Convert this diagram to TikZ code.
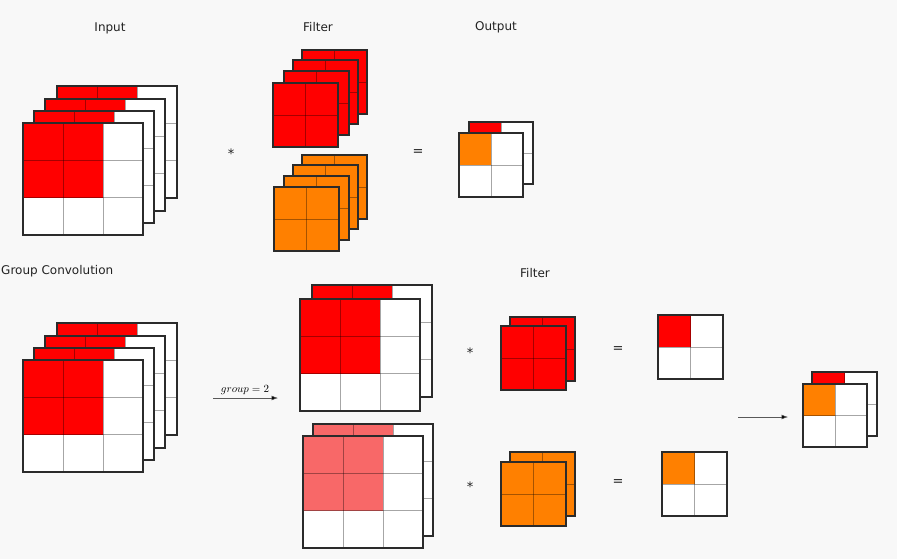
\documentclass[tikz,border=0pt]{standalone}
\usepackage{fontspec}
\setmainfont{DejaVu Sans}
\usetikzlibrary{arrows.meta}
\definecolor{bgc}{HTML}{F8F8F8}
\definecolor{cred}{HTML}{FF0000}
\definecolor{corange}{HTML}{FF8000}
\definecolor{clight}{HTML}{F86868}
\definecolor{cborder}{HTML}{2B2B2B}
\definecolor{ctext}{HTML}{222222}
\tikzset{
  innerline/.style={line width=0.6pt, black, opacity=0.35},
  outerline/.style={line width=1.5pt, cborder},
  title/.style={font=\fontsize{12}{14}\selectfont, text=ctext, inner sep=0pt},
  opsym/.style={font=\fontsize{13}{15}\selectfont, text=ctext, inner sep=0pt},
  flowarrow/.style={line width=0.6pt, draw=black!65, -{Latex[length=6.5pt,width=5pt,fill=black]}},
}
% x y cellw cellh cols rows color fillcols fillrows
\newcommand{\glayer}[9]{%
  \pgfmathsetmacro\gw{#5*#3}\pgfmathsetmacro\gh{#6*#4}%
  \pgfmathsetmacro\gfw{#8*#3}\pgfmathsetmacro\gfh{#9*#4}%
  \pgfmathtruncatemacro\gcm{#5-1}\pgfmathtruncatemacro\grm{#6-1}%
  \fill[white] (#1,#2) rectangle ++(\gw,\gh);
  \fill[#7] (#1,#2) rectangle ++(\gfw,\gfh);
  \foreach \i in {1,...,\gcm} {\draw[innerline] ({#1+\i*#3},#2) -- ++(0,\gh);}
  \foreach \j in {1,...,\grm} {\draw[innerline] (#1,{#2+\j*#4}) -- ++(\gw,0);}
  \draw[outerline] (#1,#2) rectangle ++(\gw,\gh);
}
\begin{document}
\begin{tikzpicture}[x=1pt,y=-1pt]
\useasboundingbox (0,0) rectangle (897,559);
\fill[bgc] (0,0) rectangle (897,559);

% ---------- top row ----------
\node[title] (tin) at (110,28) {Input};
\node[title] (tfil) at (318,27) {Filter};
\node[title] (tout) at (496,27) {Output};

% input stack (4 layers)
\glayer{57}{86}{40}{37.3}{3}{3}{cred}{2}{2}
\glayer{45}{99}{40}{37.3}{3}{3}{cred}{2}{2}
\glayer{34}{111}{40}{37.3}{3}{3}{cred}{2}{2}
\glayer{23}{123}{40}{37.3}{3}{3}{cred}{2}{2}

\node[opsym] (star1) at (231,154) {*};

% red filter stack
\glayer{302}{50}{32.5}{32}{2}{2}{cred}{2}{2}
\glayer{293}{60}{32.5}{32}{2}{2}{cred}{2}{2}
\glayer{284}{71}{32.5}{32}{2}{2}{cred}{2}{2}
\glayer{273}{83}{32.5}{32}{2}{2}{cred}{2}{2}
% orange filter stack
\glayer{302}{155}{32.5}{32}{2}{2}{corange}{2}{2}
\glayer{293}{165}{32.5}{32}{2}{2}{corange}{2}{2}
\glayer{284}{176}{32.5}{32}{2}{2}{corange}{2}{2}
\glayer{274}{187}{32.5}{32}{2}{2}{corange}{2}{2}

\node[opsym] (eq1) at (418,153) {=};

% output
\glayer{469}{122}{32}{31}{2}{2}{cred}{1}{1}
\glayer{459}{133}{32}{32}{2}{2}{corange}{1}{1}

% ---------- bottom row ----------
\node[title, anchor=base west] (tgc) at (1,274) {Group Convolution};
\node[title] (tfil2) at (535,273) {Filter};

\glayer{57}{323}{40}{37.3}{3}{3}{cred}{2}{2}
\glayer{45}{336}{40}{37.3}{3}{3}{cred}{2}{2}
\glayer{34}{348}{40}{37.3}{3}{3}{cred}{2}{2}
\glayer{23}{360}{40}{37.3}{3}{3}{cred}{2}{2}

\coordinate (a1s) at (213,398);
\coordinate (a1e) at (278,398);
\draw[flowarrow] (a1s) -- (a1e);
\node[font=\fontsize{10.5}{12}\selectfont, inner sep=0pt] (glab) at (245,390) {$group = 2$};

% group 1
\glayer{312}{285}{40}{37.3}{3}{3}{cred}{2}{2}
\glayer{300}{299}{40}{37.3}{3}{3}{cred}{2}{2}
% group 2
\glayer{313}{424}{40}{37.3}{3}{3}{clight}{2}{2}
\glayer{303}{436}{40}{37.3}{3}{3}{clight}{2}{2}

\node[opsym] (star2) at (470,353) {*};
\node[opsym] (star3) at (470,487) {*};

\glayer{510}{317}{32.5}{32}{2}{2}{cred}{2}{2}
\glayer{501}{326}{32.5}{32}{2}{2}{cred}{2}{2}
\glayer{510}{452}{32.5}{32}{2}{2}{corange}{2}{2}
\glayer{501}{462}{32.5}{32}{2}{2}{corange}{2}{2}

\node[opsym] (eq2) at (618,350) {=};
\node[opsym] (eq3) at (618,483) {=};

\glayer{658}{315}{32.5}{32}{2}{2}{cred}{1}{1}
\glayer{662}{452}{32.5}{32}{2}{2}{corange}{1}{1}

\coordinate (a2s) at (738,417);
\coordinate (a2e) at (788,417);
\draw[flowarrow] (a2s) -- (a2e);

\glayer{812}{372}{32.5}{32}{2}{2}{cred}{1}{1}
\glayer{803}{384}{32}{31.5}{2}{2}{corange}{1}{1}
\end{tikzpicture}
\end{document}
